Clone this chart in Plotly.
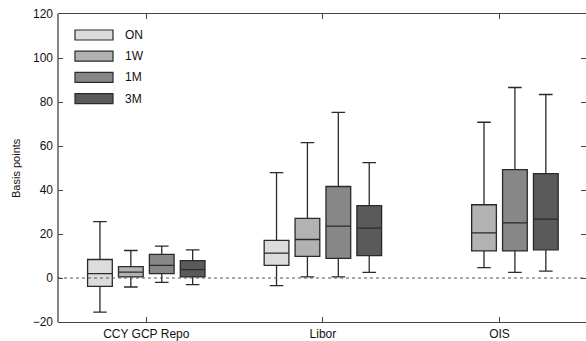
import plotly.graph_objects as go

categories = ["CCY GCP Repo", "Libor", "OIS"]
series = ["ON", "1W", "1M", "3M"]
colors = ["#dcdcdc", "#b2b2b2", "#878787", "#5a5a5a"]

# per series: categories present and stats
cats = {
    "ON": ["CCY GCP Repo", "Libor"],
    "1W": ["CCY GCP Repo", "Libor", "OIS"],
    "1M": ["CCY GCP Repo", "Libor", "OIS"],
    "3M": ["CCY GCP Repo", "Libor", "OIS"],
}
lower = {"ON": [-15.5, -3.5], "1W": [-4.1, 0.5, 4.7], "1M": [-2.0, 0.5, 2.6], "3M": [-3.0, 2.6, 3.1]}
q1 = {"ON": [-3.8, 5.7], "1W": [0.5, 9.8, 12.3], "1M": [2.0, 8.9, 12.3], "3M": [0.5, 10.2, 12.8]}
med = {"ON": [2.0, 11.3], "1W": [2.7, 17.5, 20.5], "1M": [5.7, 23.6, 25.1], "3M": [3.8, 22.7, 26.8]}
q3 = {"ON": [8.4, 17.1], "1W": [5.2, 27.1, 33.3], "1M": [10.7, 41.6, 49.3], "3M": [7.9, 32.9, 47.4]}
upper = {"ON": [25.6, 47.9], "1W": [12.5, 61.5, 70.8], "1M": [14.5, 75.3, 86.6], "3M": [12.8, 52.4, 83.4]}

y_ticks = [-20, 0, 20, 40, 60, 80, 100, 120]

L, R, T, B = 58, 0, 14, 19
PW, PH = 586 - L - R, 341 - T - B

fig = go.Figure()
for s, c in zip(series, colors):
    fig.add_trace(go.Box(
        name=s, x=cats[s], q1=q1[s], median=med[s], q3=q3[s],
        lowerfence=lower[s], upperfence=upper[s],
        fillcolor=c, line=dict(color="#2a2a2a", width=1.3),
        whiskerwidth=0.55, offsetgroup=s, boxpoints=False,
        showlegend=False, hoverinfo="skip",
    ))

# zero reference line
fig.add_hline(y=0, line=dict(color="#555555", width=1, dash="dot"))

# manual legend
for i, (s, c) in enumerate(zip(series, colors)):
    yc = 35 + i * 21.2
    fig.add_shape(type="rect", xref="paper", yref="paper",
                  x0=(75 - L) / PW, x1=(113 - L) / PW,
                  y0=(341 - B - (yc + 5)) / PH, y1=(341 - B - (yc - 5)) / PH,
                  fillcolor=c, line=dict(color="#2a2a2a", width=1.2))
    fig.add_annotation(xref="paper", yref="paper", x=(123 - L) / PW,
                       y=(341 - B - yc) / PH, text=s, showarrow=False,
                       xanchor="left", yanchor="middle",
                       font=dict(size=12, color="#111111"))

# y-axis title
fig.add_annotation(xref="paper", yref="paper", x=(16 - L) / PW, y=0.5,
                   text="Basis points", textangle=-90, showarrow=False,
                   xanchor="center", yanchor="middle",
                   font=dict(size=11, color="#111111"))

# left border line (right side has only ticks)
fig.add_shape(type="line", xref="paper", yref="paper", x0=0, x1=0, y0=0, y1=1,
              line=dict(color="#444444", width=1.3))

fig.update_layout(
    width=586, height=341,
    margin=dict(l=L, r=R, t=T, b=B, autoexpand=False),
    paper_bgcolor="white", plot_bgcolor="white",
    boxmode="group", boxgap=0.3, boxgroupgap=0.2,
    font=dict(family="Liberation Sans, Arial, sans-serif", size=12, color="#111111"),
    xaxis=dict(
        range=[-0.5, 2.49], showgrid=False, zeroline=False, automargin=False,
        showline=True, linecolor="#444444", linewidth=1.3, mirror="ticks",
        ticks="inside", ticklen=5, tickcolor="#444444",
        categoryorder="array", categoryarray=categories,
        tickfont=dict(size=12),
    ),
    yaxis=dict(
        range=[-20, 120], tickvals=y_ticks, showgrid=False, zeroline=False,
        automargin=False,
        showline=False, mirror="ticks",
        ticks="inside", ticklen=5, tickcolor="#444444",
        tickfont=dict(size=12), ticklabelstandoff=4,
    ),
)

fig.write_html("out.html", config={"displayModeBar": False},
               post_script="document.body.style.margin='0';document.body.style.overflow='hidden';")
